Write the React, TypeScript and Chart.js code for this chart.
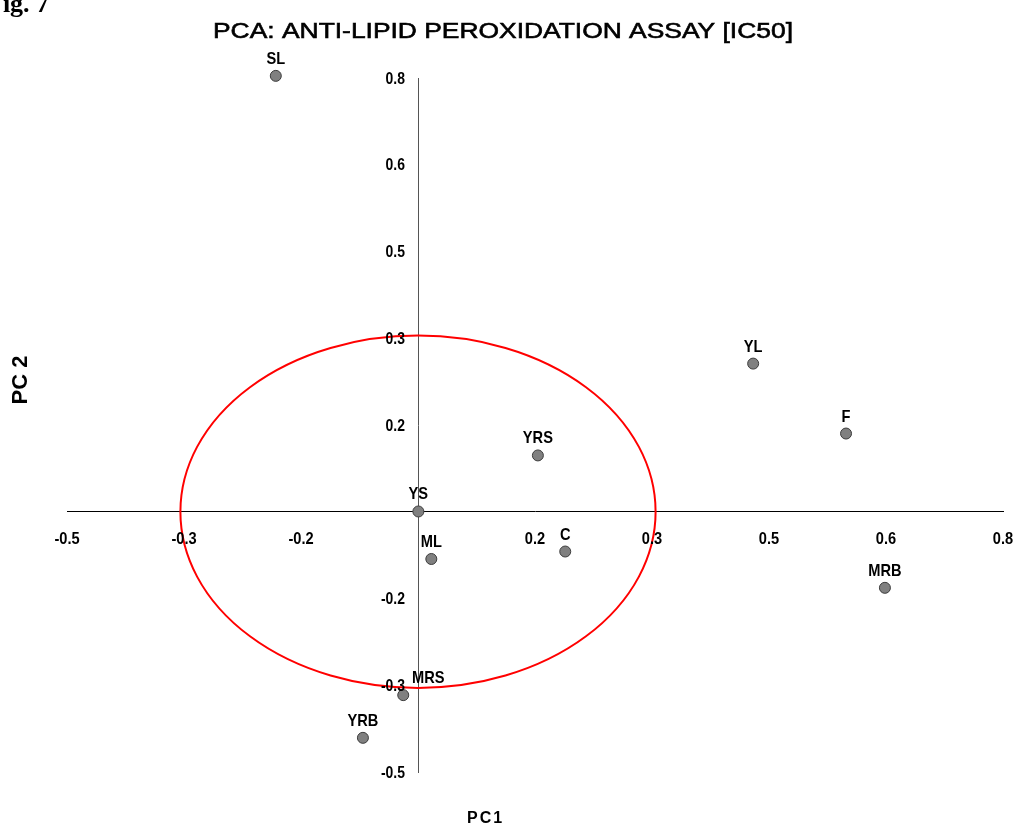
import React, { useEffect, useRef } from 'react';
import { Chart, registerables } from 'chart.js';

Chart.register(...registerables);

// ---- data ----
const SAMPLE_LABELS = ['SL', 'YL', 'F', 'MRB', 'YRS', 'YS', 'ML', 'C', 'MRS', 'YRB'];
const PC1_VALUES = [-0.21, 0.453, 0.582, 0.636, 0.154, -0.012, 0.006, 0.192, -0.033, -0.089];
const PC2_VALUES = [0.804, 0.265, 0.134, -0.155, 0.093, -0.012, -0.101, -0.087, -0.356, -0.436];

const X_TICK_LABELS = ['-0.5', '-0.3', '-0.2', '', '0.2', '0.3', '0.5', '0.6', '0.8'];
const Y_TICK_LABELS = ['-0.5', '-0.3', '-0.2', '', '0.2', '0.3', '0.5', '0.6', '0.8'];

const AXIS_MIN = -0.5;
const AXIS_MAX = 0.8;
const AXIS_ORIGIN = -0.0125;
const CIRCLE_RADIUS = 0.33;

const TITLE = 'PCA: ANTI-LIPID PEROXIDATION ASSAY [IC50]';
const FIG_LABEL = 'Fig. 7';
const X_TITLE = 'PC1';
const Y_TITLE = 'PC 2';

// ---- styles ----
const SANS = "'Liberation Sans', Arial, sans-serif";
const SERIF = "'Liberation Serif', 'Times New Roman', serif";
const LABEL_DX: Record<string, number> = { MRS: 25 };

const buildTicks = (labels: string[]) => (scale: any) => {
  const n = labels.length - 1;
  scale.ticks = labels.map((_, i) => ({ value: AXIS_MIN + (i * (AXIS_MAX - AXIS_MIN)) / n }));
};

function drawScaled(ctx: CanvasRenderingContext2D, text: string, x: number, y: number, sx: number, strokeW = 0) {
  ctx.save();
  ctx.translate(x, y);
  ctx.scale(sx, 1);
  ctx.fillText(text, 0, 0);
  if (strokeW > 0) {
    ctx.lineWidth = strokeW;
    ctx.strokeStyle = ctx.fillStyle as string;
    ctx.strokeText(text, 0, 0);
  }
  ctx.restore();
}

const circlePlugin = {
  id: 'circle',
  beforeDatasetsDraw(chart: any) {
    const { ctx, scales } = chart;
    const xs = scales.x;
    const ys = scales.y;
    const cx = xs.getPixelForValue(AXIS_ORIGIN);
    const cy = ys.getPixelForValue(AXIS_ORIGIN);
    const rx = xs.getPixelForValue(AXIS_ORIGIN + CIRCLE_RADIUS) - cx;
    const ry = cy - ys.getPixelForValue(AXIS_ORIGIN + CIRCLE_RADIUS);
    ctx.save();
    ctx.strokeStyle = '#ff0000';
    ctx.lineWidth = 2;
    ctx.beginPath();
    ctx.ellipse(cx, cy, rx, ry, 0, 0, Math.PI * 2);
    ctx.stroke();
    ctx.restore();
  },
};

const tickLabelPlugin = {
  id: 'tickLabels',
  afterDatasetsDraw(chart: any) {
    const { ctx, scales } = chart;
    const xs = scales.x;
    const ys = scales.y;
    const xAxisY = ys.getPixelForValue(AXIS_ORIGIN);
    const yAxisX = xs.getPixelForValue(AXIS_ORIGIN);
    ctx.save();
    ctx.fillStyle = '#000';
    ctx.font = `bold 17px ${SANS}`;
    ctx.textBaseline = 'middle';
    ctx.textAlign = 'center';
    xs.ticks.forEach((t: any, i: number) => {
      const lbl = X_TICK_LABELS[i];
      if (lbl) drawScaled(ctx, lbl, xs.getPixelForValue(t.value), xAxisY + 28, 0.86);
    });
    ctx.textAlign = 'right';
    ys.ticks.forEach((t: any, i: number) => {
      const lbl = Y_TICK_LABELS[i];
      if (lbl) drawScaled(ctx, lbl, yAxisX - 13, ys.getPixelForValue(t.value) + 1, 0.82);
    });
    ctx.restore();
  },
};

const labelPlugin = {
  id: 'pointLabels',
  afterDatasetsDraw(chart: any) {
    const { ctx } = chart;
    const meta = chart.getDatasetMeta(0);
    ctx.save();
    ctx.font = `bold 17px ${SANS}`;
    ctx.fillStyle = '#000';
    ctx.textAlign = 'center';
    ctx.textBaseline = 'alphabetic';
    meta.data.forEach((pt: any, i: number) => {
      const name = SAMPLE_LABELS[i];
      const dx = LABEL_DX[name] ?? 0;
      drawScaled(ctx, name, pt.x + dx, pt.y - 12, 0.86);
    });
    ctx.restore();
  },
};

const textPlugin = {
  id: 'texts',
  afterDraw(chart: any) {
    const { ctx } = chart;
    ctx.save();
    ctx.fillStyle = '#000';
    // title (wide face)
    ctx.font = `22px ${SANS}`;
    ctx.textAlign = 'left';
    ctx.textBaseline = 'alphabetic';
    drawScaled(ctx, TITLE, 213, 37.5, 1.2, 0.6);
    // x title
    ctx.font = `bold 16px ${SANS}`;
    (ctx as any).letterSpacing = '2px';
    ctx.fillText(X_TITLE, 467, 823);
    (ctx as any).letterSpacing = '0px';
    // fig label (clipped at the page corner)
    ctx.font = `bold 26px ${SERIF}`;
    ctx.fillText(FIG_LABEL, -13, 12);
    // y title
    ctx.translate(27, 380);
    ctx.rotate(-Math.PI / 2);
    ctx.font = `bold 22px ${SANS}`;
    ctx.textAlign = 'center';
    ctx.fillText(Y_TITLE, 0, 0);
    ctx.restore();
  },
};

export default function App() {
  const canvasRef = useRef<HTMLCanvasElement | null>(null);

  useEffect(() => {
    if (!canvasRef.current) return;
    const chart = new Chart(canvasRef.current, {
      type: 'scatter',
      data: {
        datasets: [
          {
            data: PC1_VALUES.map((x, i) => ({ x, y: PC2_VALUES[i] })),
            pointRadius: 5.5,
            pointHoverRadius: 5.5,
            pointBackgroundColor: '#808080',
            pointBorderColor: '#3c3c3c',
            pointBorderWidth: 1,
            clip: false as any,
          },
        ],
      },
      options: {
        responsive: false,
        animation: false,
        layout: { padding: { left: 67, right: 12, top: 78, bottom: 57 } },
        plugins: {
          legend: { display: false },
          tooltip: { enabled: false },
          title: { display: false },
        },
        scales: {
          x: {
            type: 'linear',
            min: AXIS_MIN,
            max: AXIS_MAX,
            position: { y: AXIS_ORIGIN } as any,
            afterBuildTicks: buildTicks(X_TICK_LABELS),
            grid: { display: false, drawTicks: false },
            border: { display: true, color: '#000000', width: 1 },
            ticks: { display: false },
          },
          y: {
            type: 'linear',
            min: AXIS_MIN,
            max: AXIS_MAX,
            position: { x: AXIS_ORIGIN } as any,
            afterBuildTicks: buildTicks(Y_TICK_LABELS),
            grid: { display: false, drawTicks: false },
            border: { display: true, color: '#555555', width: 1 },
            ticks: { display: false },
          },
        },
      },
      plugins: [circlePlugin, tickLabelPlugin, labelPlugin, textPlugin],
    });
    return () => chart.destroy();
  }, []);

  return (
    <div style={{ position: 'absolute', left: 0, top: 0, width: 1015, height: 829, background: '#fff' }}>
      <canvas ref={canvasRef} width={1015} height={829} style={{ display: 'block' }} />
    </div>
  );
}
